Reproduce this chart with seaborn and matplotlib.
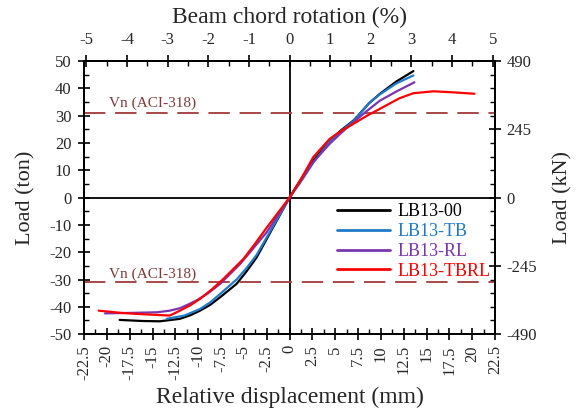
import matplotlib
matplotlib.use("Agg")
import matplotlib.pyplot as plt
from matplotlib.ticker import FixedLocator, MultipleLocator
import seaborn as sns
import pandas as pd

# Load–displacement envelopes (displacement in mm, load in ton)
lb13_00_disp = [-18.6, -16.0, -14.2, -12.0, -10.8, -9.8, -8.7, -7.6, -5.8, -4.7, -3.6, -1.8, 0.0,
                1.15, 2.6, 4.4, 5.7, 7.0, 7.5, 8.7, 9.9, 11.7, 13.56]
lb13_00_load = [-44.8, -45.2, -45.3, -44.4, -43.0, -41.4, -39.3, -36.5, -31.6, -27.0, -21.9, -10.9, 0.0,
                6.2, 13.5, 20.9, 24.8, 28.2, 30.0, 34.5, 38.0, 42.5, 46.3]

lb13_tb_disp = [-13.45, -11.5, -9.8, -8.7, -7.6, -5.8, -4.7, -3.6, -1.8, 0.0,
                1.2, 2.6, 4.4, 5.7, 7.0, 7.6, 8.7, 9.9, 11.7, 13.56]
lb13_tb_load = [-44.4, -43.2, -40.8, -38.4, -35.3, -30.0, -25.8, -21.0, -10.5, 0.0,
                5.6, 12.8, 20.5, 24.5, 28.0, 30.2, 34.6, 37.8, 41.8, 44.7]

lb13_rl_disp = [-20.2, -17.0, -14.5, -13.1, -12.0, -11.0, -10.2, -8.9, -7.6, -5.4, -4.0, -2.5, 0.0,
                1.2, 2.6, 4.4, 5.7, 7.0, 8.5, 9.9, 11.8, 13.67]
lb13_rl_load = [-42.4, -42.2, -42.0, -41.4, -40.5, -39.0, -37.7, -35.0, -31.6, -24.3, -18.7, -12.7, 0.0,
                6.0, 13.0, 19.7, 23.8, 27.6, 31.8, 35.5, 39.0, 42.2]

lb13_tbrl_disp = [-20.9, -18.5, -16.7, -13.1, -12.0, -10.9, -9.8, -8.5, -7.25, -5.06, -3.8, -2.5, 0.0,
                  1.2, 2.6, 4.4, 5.7, 7.0, 8.5, 9.9, 12.0, 13.56, 15.75, 18.0, 20.24]
lb13_tbrl_load = [-41.4, -42.2, -42.6, -43.2, -41.4, -39.5, -37.1, -33.6, -29.8, -22.5, -17.0, -11.0, 0.0,
                  6.5, 14.8, 21.5, 24.5, 27.0, 30.0, 32.5, 36.3, 38.2, 38.9, 38.5, 38.0]

series_names = ["LB13-00", "LB13-TB", "LB13-RL", "LB13-TBRL"]
series_colors = ["#000000", "#1F7BC9", "#7A35B0", "#FF0000"]

# Nominal shear strength (ACI-318), ton
vn_aci = 31.0

disp_ticks = [-22.5, -20, -17.5, -15, -12.5, -10, -7.5, -5, -2.5, 0,
              2.5, 5, 7.5, 10, 12.5, 15, 17.5, 20, 22.5]
disp_tick_labels = ["-22.5", "-20", "-17.5", "-15", "-12.5", "-10", "-7.5", "-5", "-2.5", "0",
                    "2.5", "5", "7.5", "10", "12.5", "15", "17.5", "20", "22.5"]
rot_ticks = [-5, -4, -3, -2, -1, 0, 1, 2, 3, 4, 5]
kn_ticks = [-490, -245, 0, 245, 490]

frames = []
for name, d, l in [(series_names[0], lb13_00_disp, lb13_00_load),
                   (series_names[1], lb13_tb_disp, lb13_tb_load),
                   (series_names[2], lb13_rl_disp, lb13_rl_load),
                   (series_names[3], lb13_tbrl_disp, lb13_tbrl_load)]:
    frames.append(pd.DataFrame({"disp": d, "load": l, "specimen": name}))
data = pd.concat(frames, ignore_index=True)

sns.set_style("white")
plt.rcParams["font.family"] = ["Liberation Serif", "DejaVu Serif"]
plt.rcParams["axes.unicode_minus"] = False

fig = plt.figure(figsize=(5.77, 4.12), dpi=100)
ax = fig.add_axes([0.1456, 0.189, 0.7124, 0.663])

palette = dict(zip(series_names, series_colors))
sns.lineplot(data=data, x="disp", y="load", hue="specimen", units="specimen",
             estimator=None, sort=False, palette=palette, hue_order=series_names,
             linewidth=1.6, ax=ax, legend=True)

# Axis cross-hairs through the origin
ax.axhline(0, color="black", lw=1.3, zorder=1)
ax.axvline(0, color="black", lw=1.3, zorder=1)

# ACI-318 nominal capacity lines
vn_color = "#A94848"
for s in (1, -1):
    ax.axhline(s * vn_aci, color=vn_color, lw=1.4, ls=(0, (11, 5)), zorder=1)
ax.text(-19.8, vn_aci + 1.2, "Vn (ACI-318)", color="#7E3A3A", fontsize=11,
        ha="left", va="bottom")
ax.text(-19.8, -vn_aci + 0.5, "Vn (ACI-318)", color="#7E3A3A", fontsize=11,
        ha="left", va="bottom")

ax.set_xlim(-22.5, 22.5)
ax.set_ylim(-50, 50)
ax.xaxis.set_major_locator(FixedLocator(disp_ticks))
ax.set_xticklabels(disp_tick_labels, rotation=90, fontsize=12)
ax.xaxis.set_minor_locator(MultipleLocator(1.25))
ax.yaxis.set_major_locator(MultipleLocator(10))
ax.yaxis.set_minor_locator(MultipleLocator(5))
ax.tick_params(axis="y", labelsize=12)
ax.set_xlabel("Relative displacement (mm)", fontsize=17, labelpad=5)
ax.set_ylabel("Load (ton)", fontsize=16, labelpad=10)

for spine in ax.spines.values():
    spine.set_color("black")
    spine.set_linewidth(1.3)

tick_kw_major = dict(which="major", direction="inout", length=8, width=1.2, color="black")
tick_kw_minor = dict(which="minor", direction="in", length=3.5, width=1.0, color="black")
ax.tick_params(**tick_kw_major)
ax.tick_params(**tick_kw_minor)
ax.tick_params(axis="x", which="major", pad=4)
ax.tick_params(axis="y", which="major", pad=5)
ax.tick_params(bottom=True, left=True, which="both")

# Right axis in kN
axr = ax.twinx()
axr.set_ylim(-490, 490)
axr.yaxis.set_major_locator(FixedLocator(kn_ticks))
axr.yaxis.set_minor_locator(MultipleLocator(49))
axr.tick_params(**tick_kw_major, labelsize=12, pad=4)
axr.tick_params(**tick_kw_minor)
axr.tick_params(right=True, which="both")
axr.set_ylabel("Load (kN)", fontsize=16, labelpad=12)
axr.grid(False)

# Top axis in chord rotation (%)
axt = ax.twiny()
axt.set_xlim(-5.06, 5.06)
axt.xaxis.set_major_locator(FixedLocator(rot_ticks))
axt.xaxis.set_minor_locator(MultipleLocator(0.5))
axt.tick_params(**tick_kw_major, labelsize=12, pad=5)
axt.tick_params(**tick_kw_minor)
axt.tick_params(top=True, which="both")
axt.set_xlabel("Beam chord rotation (%)", fontsize=17, labelpad=7)
axt.grid(False)

for a in (axr, axt):
    for spine in a.spines.values():
        spine.set_color("black")
        spine.set_linewidth(1.3)

# Legend with text coloured like each curve
handles, labels = ax.get_legend_handles_labels()
leg = ax.legend(handles, labels, loc="upper left", bbox_to_anchor=(0.599, 0.505),
                frameon=False, fontsize=13, handlelength=2.9, handletextpad=0.4,
                labelspacing=0.15, borderaxespad=0)
for text, col in zip(leg.get_texts(), series_colors):
    text.set_color(col)
for line in leg.get_lines():
    line.set_linewidth(2.0)

fig.savefig("out.png", dpi=100)
